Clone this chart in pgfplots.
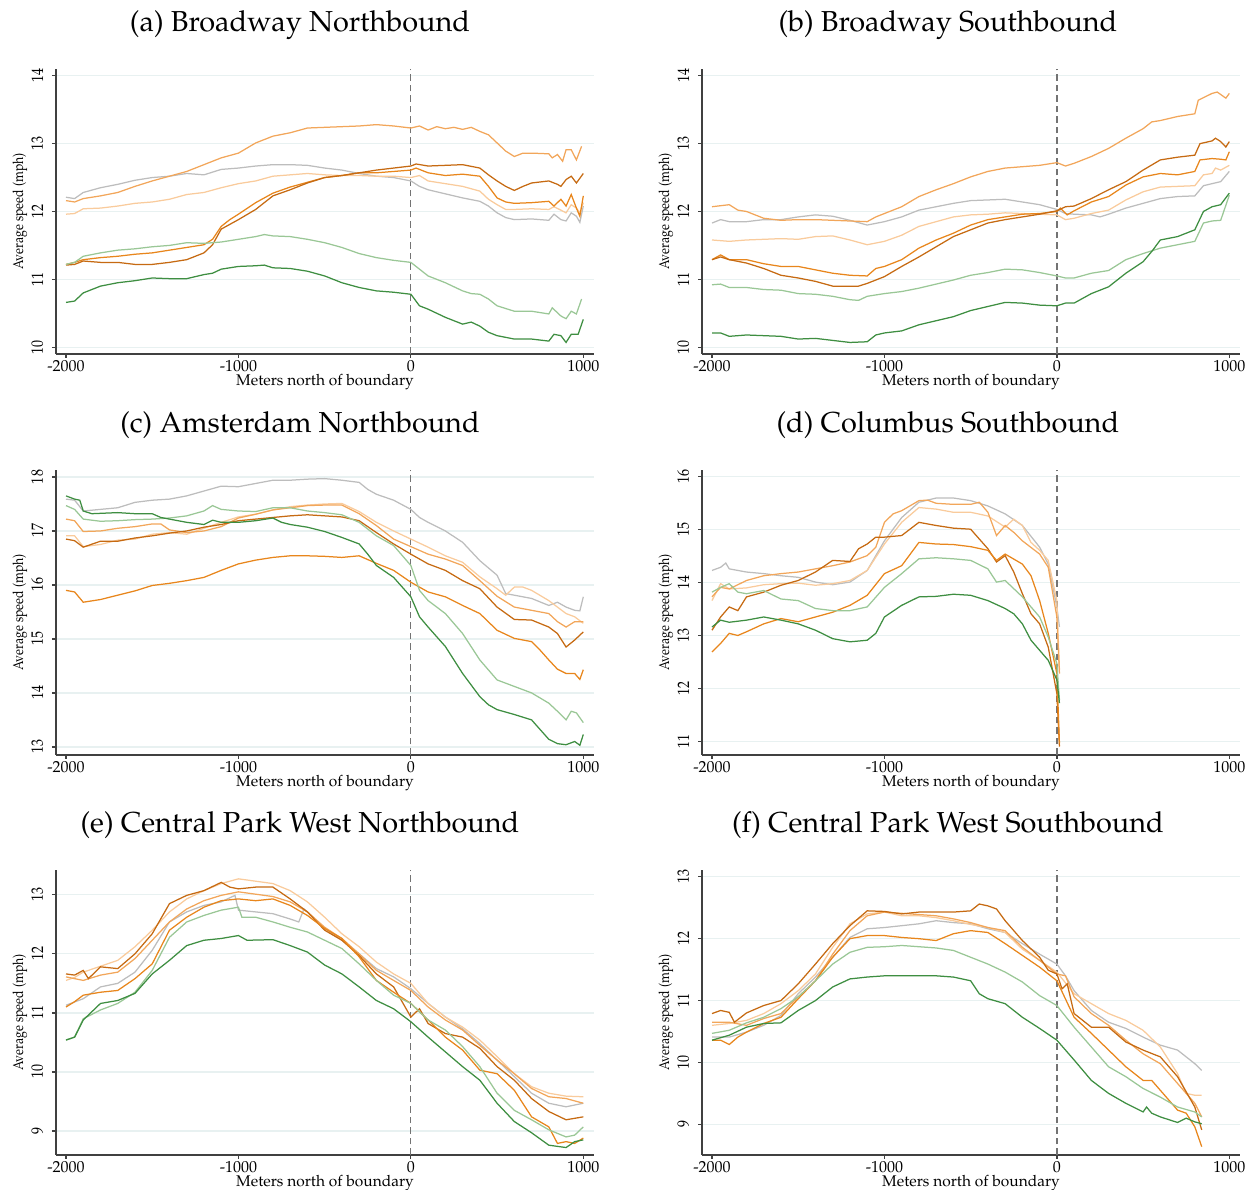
\documentclass[border=0pt]{standalone}
\usepackage[T1]{fontenc}
\usepackage{mathpazo}
\usepackage{graphicx}
\usepackage{pgfplots}
\pgfplotsset{compat=1.18}

\definecolor{c1}{HTML}{C66A12}
\definecolor{c2}{HTML}{E8861C}
\definecolor{c3}{HTML}{F2A65A}
\definecolor{c4}{HTML}{F9CB9C}
\definecolor{c5}{HTML}{BDBDBD}
\definecolor{c6}{HTML}{9AC796}
\definecolor{c7}{HTML}{3E8E41}
\definecolor{gridc}{HTML}{E8F1F1}

\tikzset{refline/.style={dash pattern=on 2.6pt off 1.6pt, black!55, line width=0.5pt}}

\pgfplotsset{
  panel/.style={
    scale only axis, width=215.2pt, height=114pt,
    xmin=-2058, xmax=1062,
    xtick={-2000,-1000,0,1000},
    xticklabels={{-2000},{-1000},0,1000},
    axis x line*=bottom, axis y line*=left,
    axis line style={black!75, line width=0.5pt, -},
    tick style={black!75, line width=0.5pt},
    major tick length=1.6pt, tick align=outside,
    ymajorgrids, grid style={gridc, line width=0.5pt},
    xticklabel style={font=\fontsize{6.4}{7}\selectfont, yshift=2.4pt},
    yticklabel={\scalebox{0.85}[1]{$\pgfmathprintnumber{\tick}$}},
    yticklabel style={font=\fontsize{6.6}{7}\selectfont, rotate=90, anchor=south},
    xlabel={Meters north of boundary},
    ylabel={\scalebox{0.85}[1]{Average speed (mph)}},
    xlabel style={font=\fontsize{6.2}{7}\selectfont, at={(axis description cs:0.5,-0.109)}, anchor=base},
    ylabel style={font=\fontsize{5.8}{7}\selectfont, at={(axis description cs:-0.0669,0.5)}, anchor=center},
    title style={font=\fontsize{11.55}{14}\selectfont, anchor=base},
    every axis plot/.append style={line width=0.5pt, no markers},
  },
  L/.style={title style={at={(axis description cs:0.4535,1.080)}}},
  R/.style={title style={at={(axis description cs:0.457,1.080)}}},
}

\begin{document}
\begin{tikzpicture}
\useasboundingbox (0,0) rectangle (501.6pt,476pt);

% (a)
\begin{axis}[panel, L, at={(22.4pt,334.4pt)}, anchor=south west,
  ymin=9.90, ymax=14.10, ytick={10,11,12,13,14},
  title={(a) Broadway Northbound}]
\draw[refline] ({axis cs:0,0}|-{rel axis cs:0,0}) -- ({axis cs:0,0}|-{rel axis cs:0,1});
\addplot[c5] coordinates {(-2000,12.21) (-1950,12.19) (-1900,12.28) (-1800,12.35) (-1700,12.40) (-1600,12.46) (-1500,12.50) (-1400,12.52) (-1300,12.56) (-1200,12.54) (-1100,12.62) (-1000,12.64) (-900,12.67) (-800,12.69) (-700,12.69) (-600,12.68) (-500,12.64) (-400,12.61) (-300,12.56) (-200,12.52) (-100,12.50) (0,12.45) (50,12.37) (100,12.32) (200,12.26) (300,12.20) (400,12.15) (450,12.08) (500,11.98) (550,11.91) (600,11.88) (700,11.89) (800,11.87) (830,11.96) (870,11.88) (900,11.86) (930,11.98) (960,11.93) (980,11.84) (1000,12.08)};
\addplot[c4] coordinates {(-2000,11.96) (-1950,11.97) (-1900,12.04) (-1800,12.05) (-1700,12.08) (-1600,12.12) (-1500,12.14) (-1400,12.18) (-1300,12.25) (-1200,12.28) (-1100,12.35) (-1000,12.41) (-900,12.45) (-800,12.52) (-700,12.54) (-600,12.56) (-500,12.54) (-400,12.53) (-300,12.53) (-200,12.52) (-100,12.52) (0,12.50) (50,12.53) (100,12.45) (200,12.41) (300,12.37) (400,12.30) (450,12.18) (500,12.10) (550,12.03) (600,12.03) (700,12.04) (800,12.03) (830,12.07) (870,12.02) (900,11.98) (930,12.10) (960,12.05) (980,11.98) (1000,12.13)};
\addplot[c3] coordinates {(-2000,12.16) (-1950,12.14) (-1900,12.19) (-1800,12.23) (-1700,12.28) (-1600,12.37) (-1500,12.45) (-1400,12.52) (-1300,12.59) (-1200,12.69) (-1100,12.79) (-1000,12.86) (-900,13.01) (-800,13.11) (-700,13.16) (-600,13.23) (-500,13.24) (-400,13.25) (-300,13.26) (-200,13.28) (-100,13.26) (0,13.23) (50,13.26) (100,13.20) (150,13.25) (200,13.22) (250,13.24) (300,13.21) (350,13.24) (400,13.18) (450,13.13) (500,13.01) (550,12.89) (600,12.81) (650,12.86) (700,12.86) (800,12.85) (820,12.79) (850,12.84) (880,12.74) (900,12.91) (930,12.91) (960,12.76) (990,12.96)};
\addplot[c2] coordinates {(-2000,11.22) (-1950,11.25) (-1900,11.29) (-1800,11.32) (-1700,11.34) (-1600,11.37) (-1500,11.39) (-1400,11.43) (-1300,11.47) (-1200,11.51) (-1150,11.59) (-1100,11.78) (-1050,11.88) (-1000,11.96) (-900,12.13) (-800,12.27) (-700,12.36) (-600,12.43) (-500,12.50) (-400,12.53) (-300,12.57) (-200,12.57) (-100,12.59) (0,12.61) (30,12.64) (100,12.57) (200,12.53) (300,12.55) (400,12.52) (450,12.37) (500,12.20) (550,12.14) (600,12.12) (700,12.13) (800,12.15) (830,12.08) (870,12.18) (900,12.08) (930,12.25) (960,12.05) (980,11.93) (1000,12.23)};
\addplot[c1] coordinates {(-2000,11.21) (-1950,11.22) (-1900,11.27) (-1800,11.25) (-1700,11.25) (-1600,11.22) (-1500,11.22) (-1400,11.25) (-1300,11.29) (-1200,11.39) (-1150,11.51) (-1100,11.74) (-1050,11.81) (-1000,11.88) (-900,12.03) (-800,12.23) (-700,12.32) (-600,12.42) (-500,12.50) (-400,12.53) (-300,12.57) (-200,12.61) (-100,12.64) (0,12.67) (30,12.70) (100,12.67) (200,12.68) (300,12.69) (400,12.64) (450,12.54) (500,12.45) (550,12.37) (600,12.31) (650,12.37) (700,12.42) (800,12.45) (850,12.40) (870,12.37) (900,12.47) (930,12.52) (960,12.42) (1000,12.56)};
\addplot[c6] coordinates {(-2000,11.22) (-1950,11.25) (-1900,11.34) (-1800,11.39) (-1700,11.43) (-1600,11.45) (-1500,11.48) (-1400,11.50) (-1300,11.54) (-1200,11.53) (-1100,11.55) (-1000,11.59) (-900,11.63) (-850,11.66) (-800,11.64) (-700,11.63) (-600,11.59) (-500,11.54) (-400,11.47) (-300,11.38) (-200,11.32) (-100,11.28) (0,11.25) (50,11.15) (100,11.05) (200,10.95) (300,10.83) (350,10.79) (400,10.78) (450,10.71) (500,10.61) (600,10.53) (700,10.53) (800,10.49) (820,10.58) (870,10.46) (900,10.42) (930,10.53) (960,10.49) (990,10.71)};
\addplot[c7] coordinates {(-2000,10.66) (-1950,10.68) (-1900,10.80) (-1800,10.90) (-1700,10.95) (-1600,10.98) (-1500,11.02) (-1400,11.01) (-1300,11.01) (-1200,11.07) (-1150,11.09) (-1100,11.15) (-1000,11.19) (-900,11.20) (-850,11.21) (-800,11.17) (-700,11.16) (-600,11.12) (-500,11.05) (-400,10.95) (-300,10.88) (-200,10.83) (-100,10.81) (0,10.78) (50,10.61) (100,10.56) (200,10.44) (300,10.34) (350,10.37) (400,10.31) (450,10.22) (500,10.17) (600,10.12) (700,10.12) (800,10.09) (830,10.19) (870,10.17) (900,10.07) (930,10.19) (970,10.19) (1000,10.41)};
\end{axis}

% (b)
\begin{axis}[panel, R, at={(280.8pt,334.4pt)}, anchor=south west,
  ymin=9.90, ymax=14.10, ytick={10,11,12,13,14},
  title={(b) Broadway Southbound}]
\draw[refline] ({axis cs:0,0}|-{rel axis cs:0,0}) -- ({axis cs:0,0}|-{rel axis cs:0,1});
\addplot[c5] coordinates {(-2000,11.83) (-1950,11.88) (-1900,11.85) (-1800,11.85) (-1700,11.88) (-1600,11.88) (-1500,11.92) (-1400,11.95) (-1300,11.93) (-1200,11.87) (-1100,11.80) (-1000,11.85) (-900,11.92) (-800,12.02) (-700,12.07) (-600,12.12) (-500,12.16) (-400,12.17) (-300,12.18) (-200,12.14) (-100,12.10) (0,12.03) (50,11.97) (100,11.96) (200,11.95) (250,11.92) (300,11.96) (400,12.05) (500,12.12) (600,12.19) (700,12.22) (800,12.23) (850,12.38) (900,12.41) (950,12.44) (1000,12.59)};
\addplot[c4] coordinates {(-2000,11.58) (-1900,11.56) (-1800,11.58) (-1600,11.60) (-1500,11.59) (-1400,11.63) (-1300,11.64) (-1200,11.58) (-1100,11.51) (-1000,11.56) (-900,11.65) (-800,11.78) (-700,11.85) (-600,11.92) (-500,11.95) (-400,11.96) (-300,11.98) (-200,11.97) (-100,11.96) (0,11.95) (50,11.88) (100,11.90) (200,11.97) (300,12.02) (400,12.17) (500,12.29) (600,12.36) (700,12.37) (800,12.38) (850,12.54) (900,12.56) (920,12.64) (950,12.61) (1000,12.68)};
\addplot[c3] coordinates {(-2000,12.07) (-1900,12.10) (-1850,12.02) (-1800,12.00) (-1700,11.90) (-1600,11.87) (-1500,11.88) (-1400,11.88) (-1300,11.87) (-1200,11.86) (-1100,11.85) (-1050,11.92) (-1000,11.97) (-900,12.07) (-800,12.22) (-700,12.32) (-600,12.41) (-500,12.51) (-400,12.59) (-300,12.64) (-200,12.66) (-100,12.68) (0,12.72) (50,12.67) (100,12.71) (200,12.81) (300,12.93) (400,13.08) (500,13.22) (550,13.32) (600,13.34) (700,13.40) (800,13.44) (820,13.64) (900,13.74) (930,13.76) (980,13.67) (1000,13.74)};
\addplot[c2] coordinates {(-2000,11.29) (-1950,11.36) (-1900,11.29) (-1800,11.29) (-1700,11.23) (-1600,11.19) (-1500,11.19) (-1400,11.14) (-1300,11.09) (-1200,11.06) (-1100,11.05) (-1050,11.16) (-1000,11.19) (-900,11.29) (-800,11.46) (-700,11.58) (-600,11.68) (-500,11.80) (-400,11.88) (-300,11.92) (-200,11.96) (-100,11.97) (0,12.00) (20,12.05) (60,11.95) (100,12.01) (200,12.14) (300,12.22) (400,12.39) (500,12.51) (600,12.56) (700,12.54) (800,12.59) (830,12.76) (900,12.78) (950,12.77) (980,12.76) (1000,12.88)};
\addplot[c1] coordinates {(-2000,11.29) (-1950,11.33) (-1900,11.29) (-1800,11.24) (-1700,11.16) (-1600,11.06) (-1500,11.02) (-1400,10.97) (-1300,10.90) (-1200,10.90) (-1150,10.90) (-1100,10.94) (-1000,11.04) (-900,11.19) (-800,11.33) (-700,11.48) (-600,11.63) (-500,11.73) (-400,11.83) (-300,11.88) (-200,11.92) (-100,11.96) (0,12.01) (50,12.07) (100,12.08) (200,12.19) (300,12.32) (400,12.44) (500,12.61) (600,12.76) (700,12.80) (800,12.83) (830,13.00) (900,13.04) (920,13.08) (950,13.03) (980,12.95) (1000,13.03)};
\addplot[c6] coordinates {(-2000,10.92) (-1950,10.93) (-1900,10.88) (-1800,10.88) (-1700,10.85) (-1600,10.84) (-1500,10.79) (-1400,10.78) (-1300,10.75) (-1200,10.70) (-1150,10.69) (-1100,10.75) (-1000,10.79) (-900,10.82) (-800,10.87) (-700,10.93) (-600,10.99) (-500,11.06) (-400,11.10) (-300,11.15) (-200,11.14) (-100,11.10) (0,11.05) (50,11.02) (100,11.02) (200,11.09) (300,11.13) (400,11.29) (500,11.38) (600,11.46) (700,11.51) (800,11.56) (850,11.83) (900,11.86) (950,11.87) (1000,12.24)};
\addplot[c7] coordinates {(-2000,10.21) (-1950,10.21) (-1900,10.16) (-1800,10.18) (-1700,10.17) (-1600,10.16) (-1500,10.12) (-1400,10.13) (-1300,10.10) (-1200,10.07) (-1100,10.08) (-1050,10.18) (-1000,10.21) (-900,10.24) (-800,10.33) (-700,10.39) (-600,10.45) (-500,10.54) (-400,10.60) (-300,10.66) (-200,10.65) (-100,10.62) (0,10.61) (50,10.65) (100,10.65) (200,10.79) (300,10.89) (400,11.09) (500,11.26) (550,11.41) (600,11.58) (700,11.63) (800,11.73) (850,12.00) (900,12.07) (950,12.10) (1000,12.27)};
\end{axis}

% (c)
\begin{axis}[panel, L, at={(22.4pt,174pt)}, anchor=south west,
  ymin=12.85, ymax=18.13, ytick={13,14,15,16,17,18},
  title={(c) Amsterdam Northbound}]
\draw[refline] ({axis cs:0,0}|-{rel axis cs:0,0}) -- ({axis cs:0,0}|-{rel axis cs:0,1});
\addplot[c5] coordinates {(-2000,17.59) (-1950,17.57) (-1900,17.37) (-1800,17.40) (-1700,17.43) (-1600,17.53) (-1500,17.57) (-1400,17.59) (-1300,17.65) (-1200,17.74) (-1100,17.83) (-1000,17.82) (-900,17.88) (-800,17.94) (-700,17.94) (-600,17.96) (-500,17.97) (-400,17.94) (-300,17.90) (-250,17.77) (-200,17.68) (-100,17.57) (0,17.40) (50,17.25) (100,17.16) (200,17.00) (300,16.79) (400,16.45) (500,16.18) (550,15.84) (600,15.81) (700,15.75) (800,15.62) (850,15.68) (900,15.59) (950,15.53) (980,15.52) (1000,15.78)};
\addplot[c4] coordinates {(-2000,16.91) (-1950,16.91) (-1900,16.71) (-1800,16.75) (-1700,16.83) (-1600,16.85) (-1500,16.94) (-1400,16.97) (-1300,16.94) (-1200,17.05) (-1100,17.16) (-1000,17.26) (-900,17.31) (-800,17.39) (-700,17.45) (-600,17.48) (-500,17.50) (-400,17.51) (-300,17.36) (-200,17.16) (-100,17.00) (0,16.85) (100,16.70) (200,16.54) (300,16.42) (400,16.15) (500,15.93) (550,15.81) (600,15.96) (650,15.96) (700,15.90) (800,15.71) (900,15.47) (950,15.41) (1000,15.29)};
\addplot[c3] coordinates {(-2000,17.22) (-1950,17.19) (-1900,16.99) (-1800,17.00) (-1700,17.05) (-1600,17.08) (-1500,17.13) (-1450,17.13) (-1400,17.02) (-1300,16.97) (-1200,17.00) (-1100,17.08) (-1000,17.24) (-900,17.31) (-800,17.39) (-700,17.43) (-600,17.47) (-500,17.48) (-400,17.48) (-300,17.32) (-200,17.10) (-100,16.85) (0,16.71) (100,16.57) (200,16.48) (300,16.36) (400,16.08) (500,15.79) (600,15.59) (700,15.53) (800,15.47) (850,15.32) (900,15.22) (950,15.32) (1000,15.32)};
\addplot[c1] coordinates {(-2000,16.85) (-1950,16.82) (-1900,16.70) (-1800,16.81) (-1700,16.81) (-1600,16.87) (-1500,16.91) (-1400,16.96) (-1300,17.00) (-1200,17.07) (-1100,17.12) (-1000,17.19) (-900,17.22) (-800,17.25) (-700,17.28) (-600,17.30) (-500,17.28) (-400,17.26) (-300,17.19) (-200,16.97) (-100,16.76) (0,16.57) (100,16.39) (200,16.27) (300,16.08) (400,15.93) (500,15.59) (600,15.36) (700,15.35) (800,15.22) (850,15.10) (900,14.85) (950,14.98) (1000,15.13)};
\addplot[c2] coordinates {(-2000,15.90) (-1950,15.87) (-1900,15.68) (-1800,15.73) (-1700,15.81) (-1600,15.89) (-1500,15.99) (-1400,16.03) (-1300,16.08) (-1200,16.14) (-1100,16.27) (-1000,16.39) (-900,16.46) (-800,16.51) (-700,16.54) (-600,16.54) (-500,16.53) (-400,16.51) (-300,16.54) (-200,16.40) (-100,16.27) (0,16.05) (100,15.87) (200,15.78) (300,15.62) (400,15.47) (500,15.16) (600,15.01) (700,14.95) (750,14.79) (800,14.61) (850,14.44) (900,14.36) (950,14.36) (980,14.25) (1000,14.43)};
\addplot[c6] coordinates {(-2000,17.47) (-1950,17.40) (-1900,17.22) (-1800,17.18) (-1700,17.19) (-1600,17.21) (-1500,17.22) (-1400,17.24) (-1300,17.28) (-1200,17.37) (-1150,17.47) (-1100,17.40) (-1000,17.37) (-900,17.36) (-800,17.43) (-700,17.43) (-600,17.37) (-500,17.34) (-400,17.30) (-300,17.16) (-200,16.91) (-100,16.73) (0,16.36) (50,15.90) (100,15.71) (200,15.47) (300,15.10) (400,14.61) (500,14.24) (600,14.12) (700,14.00) (800,13.81) (850,13.66) (900,13.50) (930,13.66) (960,13.63) (1000,13.45)};
\addplot[c7] coordinates {(-2000,17.65) (-1950,17.59) (-1920,17.57) (-1900,17.37) (-1850,17.32) (-1700,17.34) (-1600,17.32) (-1500,17.32) (-1450,17.25) (-1400,17.22) (-1300,17.16) (-1200,17.12) (-1150,17.20) (-1100,17.16) (-1000,17.16) (-900,17.19) (-800,17.24) (-750,17.16) (-700,17.12) (-600,17.07) (-500,16.99) (-400,16.88) (-300,16.76) (-250,16.57) (-200,16.36) (-100,16.14) (0,15.78) (50,15.41) (100,15.22) (200,14.86) (300,14.36) (400,13.93) (450,13.78) (500,13.69) (600,13.60) (700,13.50) (800,13.14) (850,13.06) (900,13.04) (950,13.10) (980,13.03) (1000,13.23)};
\end{axis}

% (d)
\begin{axis}[panel, R, at={(280.8pt,174pt)}, anchor=south west,
  ymin=10.74, ymax=16.13, ytick={11,12,13,14,15,16},
  title={(d) Columbus Southbound}]
\draw[refline] ({axis cs:0,0}|-{rel axis cs:0,0}) -- ({axis cs:0,0}|-{rel axis cs:0,1});
\addplot[c5] coordinates {(-2000,14.23) (-1950,14.29) (-1920,14.37) (-1900,14.26) (-1800,14.20) (-1700,14.17) (-1600,14.13) (-1500,14.10) (-1400,14.01) (-1300,13.96) (-1200,14.01) (-1100,14.23) (-1000,14.79) (-900,15.23) (-800,15.52) (-700,15.60) (-600,15.60) (-500,15.55) (-400,15.45) (-300,15.30) (-200,15.08) (-100,14.67) (-50,14.35) (0,13.54) (15,13.16)};
\addplot[c4] coordinates {(-2000,13.66) (-1950,13.98) (-1900,13.88) (-1800,13.90) (-1700,13.96) (-1600,13.98) (-1500,13.99) (-1400,13.95) (-1300,13.98) (-1200,14.04) (-1100,14.23) (-1000,14.73) (-900,15.14) (-800,15.42) (-700,15.39) (-600,15.33) (-500,15.33) (-400,15.26) (-300,15.05) (-250,15.20) (-200,15.08) (-150,14.76) (-100,14.61) (-50,14.42) (0,13.66) (15,12.34)};
\addplot[c3] coordinates {(-2000,13.73) (-1950,13.91) (-1900,13.88) (-1800,14.04) (-1700,14.13) (-1600,14.17) (-1500,14.20) (-1400,14.26) (-1300,14.32) (-1200,14.39) (-1100,14.51) (-1050,14.67) (-1000,15.14) (-950,15.30) (-900,15.36) (-800,15.55) (-750,15.56) (-700,15.50) (-600,15.48) (-500,15.48) (-450,15.52) (-400,15.33) (-350,14.89) (-300,15.08) (-250,14.95) (-200,14.79) (-100,14.54) (-50,14.29) (0,13.35) (15,12.28)};
\addplot[c1] coordinates {(-2000,13.10) (-1950,13.35) (-1900,13.54) (-1850,13.47) (-1800,13.73) (-1700,13.82) (-1600,13.95) (-1500,14.04) (-1400,14.20) (-1300,14.42) (-1200,14.40) (-1150,14.64) (-1100,14.73) (-1050,14.86) (-1000,14.86) (-900,14.89) (-800,15.14) (-700,15.08) (-600,15.03) (-500,15.01) (-400,14.64) (-350,14.39) (-300,14.51) (-250,14.20) (-200,13.79) (-150,13.41) (-100,13.22) (-50,12.78) (0,11.90) (15,10.90)};
\addplot[c2] coordinates {(-2000,12.69) (-1950,12.85) (-1900,13.04) (-1850,13.00) (-1800,13.07) (-1700,13.22) (-1600,13.32) (-1500,13.26) (-1400,13.35) (-1300,13.44) (-1200,13.57) (-1100,13.76) (-1000,14.17) (-900,14.32) (-800,14.76) (-700,14.73) (-600,14.72) (-500,14.68) (-400,14.61) (-350,14.42) (-300,14.54) (-200,14.35) (-150,14.13) (-100,13.66) (-50,13.04) (0,12.28) (15,10.96)};
\addplot[c6] coordinates {(-2000,13.82) (-1950,13.91) (-1900,13.98) (-1850,13.82) (-1800,13.79) (-1700,13.85) (-1600,13.69) (-1500,13.66) (-1400,13.51) (-1300,13.47) (-1200,13.47) (-1100,13.54) (-1000,13.91) (-900,14.17) (-800,14.45) (-700,14.47) (-600,14.45) (-500,14.42) (-400,14.26) (-350,14.01) (-300,14.04) (-200,13.73) (-100,13.35) (-50,12.97) (0,12.47) (15,11.78)};
\addplot[c7] coordinates {(-2000,13.16) (-1950,13.29) (-1900,13.25) (-1800,13.29) (-1700,13.35) (-1600,13.29) (-1500,13.22) (-1400,13.10) (-1300,12.94) (-1200,12.88) (-1100,12.91) (-1050,13.04) (-1000,13.35) (-900,13.57) (-800,13.73) (-700,13.74) (-600,13.78) (-500,13.76) (-400,13.66) (-300,13.51) (-250,13.41) (-200,13.22) (-150,12.91) (-100,12.72) (-50,12.53) (0,12.16) (15,11.72)};
\end{axis}

% (e)
\begin{axis}[panel, L, at={(22.4pt,14pt)}, anchor=south west,
  ymin=8.594, ymax=13.42, ytick={9,10,11,12,13},
  title={(e) Central Park West Northbound}]
\draw[refline] ({axis cs:0,0}|-{rel axis cs:0,0}) -- ({axis cs:0,0}|-{rel axis cs:0,1});
\addplot[c5] coordinates {(-2000,11.13) (-1900,11.24) (-1800,11.44) (-1700,11.50) (-1600,11.69) (-1500,12.06) (-1400,12.54) (-1300,12.71) (-1200,12.82) (-1100,12.88) (-1020,12.99) (-1000,12.74) (-900,12.71) (-800,12.68) (-700,12.59) (-650,12.54) (-620,12.76) (-600,12.71) (-500,12.43) (-400,12.23) (-300,12.00) (-200,11.75) (-100,11.61) (0,11.41) (100,11.16) (200,10.93) (300,10.73) (400,10.48) (500,10.20) (600,9.92) (700,9.64) (800,9.47) (900,9.41) (1000,9.47)};
\addplot[c4] coordinates {(-2000,11.55) (-1950,11.60) (-1900,11.69) (-1800,11.79) (-1700,11.89) (-1600,12.12) (-1500,12.40) (-1400,12.71) (-1300,12.93) (-1200,13.07) (-1100,13.19) (-1000,13.27) (-900,13.23) (-800,13.19) (-700,13.07) (-600,12.88) (-500,12.62) (-400,12.34) (-300,12.12) (-200,11.86) (-100,11.66) (0,11.50) (100,11.16) (200,10.93) (300,10.76) (400,10.54) (500,10.26) (600,9.97) (700,9.75) (800,9.64) (900,9.59) (1000,9.58)};
\addplot[c3] coordinates {(-2000,11.61) (-1900,11.55) (-1800,11.64) (-1700,11.69) (-1600,11.92) (-1500,12.23) (-1400,12.54) (-1300,12.76) (-1200,12.90) (-1100,12.99) (-1000,13.05) (-900,13.01) (-800,12.97) (-700,12.88) (-600,12.71) (-500,12.45) (-400,12.26) (-300,12.00) (-200,11.72) (-100,11.55) (0,11.38) (100,11.10) (200,10.88) (300,10.71) (400,10.45) (500,10.20) (600,9.97) (700,9.72) (800,9.58) (900,9.55) (1000,9.47)};
\addplot[c1] coordinates {(-2000,11.66) (-1950,11.64) (-1900,11.72) (-1870,11.58) (-1800,11.78) (-1700,11.75) (-1600,12.00) (-1500,12.34) (-1400,12.85) (-1300,12.99) (-1200,13.07) (-1100,13.21) (-1050,13.13) (-1000,13.10) (-900,13.13) (-800,13.13) (-700,12.93) (-600,12.71) (-500,12.40) (-400,12.23) (-300,11.97) (-200,11.66) (-100,11.44) (0,10.93) (50,11.07) (100,10.82) (200,10.65) (300,10.59) (400,10.40) (500,10.09) (600,9.86) (700,9.55) (800,9.33) (900,9.19) (1000,9.24)};
\addplot[c2] coordinates {(-2000,11.10) (-1950,11.19) (-1900,11.30) (-1800,11.35) (-1700,11.38) (-1600,11.58) (-1500,11.83) (-1400,12.40) (-1300,12.62) (-1200,12.79) (-1100,12.90) (-1000,12.93) (-900,12.90) (-800,12.93) (-700,12.82) (-600,12.65) (-500,12.43) (-400,12.26) (-300,11.95) (-200,11.55) (-100,11.35) (0,11.16) (100,10.88) (200,10.59) (300,10.37) (400,10.03) (500,9.97) (600,9.69) (700,9.24) (800,9.07) (850,8.79) (900,8.82) (950,8.79) (1000,8.88)};
\addplot[c6] coordinates {(-2000,10.54) (-1950,10.59) (-1900,10.90) (-1800,11.05) (-1700,11.16) (-1600,11.35) (-1500,11.72) (-1400,12.28) (-1300,12.54) (-1200,12.65) (-1100,12.74) (-1000,12.79) (-980,12.62) (-900,12.62) (-800,12.54) (-700,12.45) (-600,12.37) (-500,12.23) (-400,12.09) (-300,11.83) (-200,11.55) (-100,11.30) (0,11.16) (100,10.88) (200,10.71) (300,10.43) (400,10.09) (500,9.64) (600,9.35) (700,9.19) (800,9.02) (900,8.90) (950,8.93) (1000,9.07)};
\addplot[c7] coordinates {(-2000,10.54) (-1950,10.59) (-1900,10.88) (-1800,11.16) (-1700,11.21) (-1600,11.33) (-1500,11.66) (-1400,11.89) (-1300,12.14) (-1200,12.23) (-1100,12.26) (-1000,12.31) (-950,12.23) (-800,12.24) (-700,12.14) (-600,12.03) (-500,11.81) (-400,11.66) (-300,11.44) (-200,11.21) (-100,11.07) (0,10.85) (100,10.59) (200,10.34) (300,10.09) (400,9.86) (500,9.47) (600,9.16) (700,8.97) (800,8.76) (850,8.74) (900,8.72) (950,8.82) (1000,8.85)};
\end{axis}

% (f)
\begin{axis}[panel, R, at={(280.8pt,14pt)}, anchor=south west,
  ymin=8.505, ymax=13.11, ytick={9,10,11,12,13},
  title={(f) Central Park West Southbound}]
\draw[refline] ({axis cs:0,0}|-{rel axis cs:0,0}) -- ({axis cs:0,0}|-{rel axis cs:0,1});
\addplot[c5] coordinates {(-2000,10.41) (-1900,10.41) (-1800,10.49) (-1700,10.60) (-1600,10.76) (-1500,11.11) (-1400,11.38) (-1300,11.70) (-1200,12.02) (-1100,12.16) (-1000,12.18) (-900,12.21) (-800,12.24) (-700,12.29) (-600,12.26) (-500,12.24) (-400,12.16) (-300,12.10) (-200,11.92) (-100,11.75) (0,11.59) (50,11.40) (100,11.16) (200,10.84) (300,10.65) (400,10.55) (500,10.41) (600,10.28) (700,10.20) (800,9.98) (840,9.87)};
\addplot[c4] coordinates {(-2000,10.60) (-1900,10.63) (-1800,10.68) (-1700,10.79) (-1600,10.95) (-1500,11.16) (-1400,11.43) (-1300,11.86) (-1200,12.24) (-1100,12.40) (-1000,12.43) (-900,12.37) (-800,12.37) (-700,12.34) (-600,12.29) (-500,12.23) (-400,12.18) (-300,12.10) (-200,11.83) (-100,11.65) (0,11.46) (100,11.11) (200,10.95) (300,10.79) (400,10.68) (500,10.52) (600,10.25) (700,9.82) (750,9.50) (800,9.47) (840,9.47)};
\addplot[c3] coordinates {(-2000,10.65) (-1900,10.65) (-1800,10.60) (-1700,10.71) (-1600,10.79) (-1500,11.06) (-1400,11.32) (-1300,11.75) (-1200,12.13) (-1100,12.37) (-1000,12.43) (-900,12.41) (-800,12.39) (-700,12.37) (-600,12.32) (-500,12.26) (-400,12.18) (-300,12.13) (-200,11.86) (-100,11.65) (0,11.43) (50,11.40) (100,11.06) (200,10.79) (300,10.60) (400,10.36) (500,10.14) (600,9.98) (700,9.66) (800,9.34) (840,9.12)};
\addplot[c1] coordinates {(-2000,10.79) (-1950,10.84) (-1900,10.81) (-1870,10.65) (-1800,10.80) (-1700,10.92) (-1600,11.00) (-1500,11.27) (-1400,11.59) (-1300,11.92) (-1200,12.21) (-1100,12.45) (-1000,12.44) (-900,12.40) (-800,12.43) (-700,12.43) (-600,12.43) (-500,12.45) (-450,12.56) (-400,12.53) (-350,12.48) (-300,12.29) (-200,11.97) (-100,11.70) (-50,11.49) (0,11.43) (30,11.19) (60,11.27) (100,10.79) (200,10.57) (300,10.57) (400,10.33) (500,10.20) (600,10.09) (700,9.77) (800,9.28) (840,8.91)};
\addplot[c2] coordinates {(-2000,10.36) (-1950,10.36) (-1900,10.29) (-1850,10.41) (-1800,10.49) (-1700,10.63) (-1600,10.73) (-1500,11.03) (-1400,11.32) (-1300,11.70) (-1200,12.00) (-1100,12.05) (-1000,12.05) (-900,12.02) (-800,12.00) (-700,11.97) (-600,12.08) (-500,12.13) (-400,12.10) (-300,11.92) (-200,11.73) (-100,11.54) (0,11.32) (100,10.73) (200,10.47) (300,10.20) (400,9.93) (500,9.71) (550,9.71) (600,9.55) (700,9.23) (750,9.18) (800,8.96) (840,8.64)};
\addplot[c6] coordinates {(-2000,10.47) (-1900,10.52) (-1800,10.64) (-1700,10.73) (-1600,10.87) (-1500,11.06) (-1400,11.32) (-1300,11.59) (-1200,11.78) (-1100,11.86) (-1000,11.87) (-900,11.89) (-800,11.87) (-700,11.85) (-600,11.81) (-500,11.70) (-400,11.59) (-300,11.46) (-200,11.30) (-100,11.08) (0,10.92) (100,10.57) (200,10.25) (300,9.93) (400,9.77) (500,9.58) (600,9.44) (700,9.28) (800,9.20) (840,9.12)};
\addplot[c7] coordinates {(-2000,10.36) (-1900,10.44) (-1800,10.57) (-1700,10.63) (-1600,10.64) (-1500,10.84) (-1400,11.00) (-1300,11.22) (-1200,11.35) (-1100,11.38) (-1000,11.40) (-900,11.40) (-800,11.40) (-700,11.40) (-600,11.38) (-500,11.32) (-450,11.11) (-400,11.03) (-300,10.95) (-200,10.73) (-100,10.55) (0,10.36) (100,10.04) (200,9.71) (300,9.50) (400,9.34) (500,9.20) (520,9.28) (550,9.18) (600,9.12) (700,9.03) (750,9.10) (800,9.04) (840,9.01)};
\end{axis}
\end{tikzpicture}
\end{document}
